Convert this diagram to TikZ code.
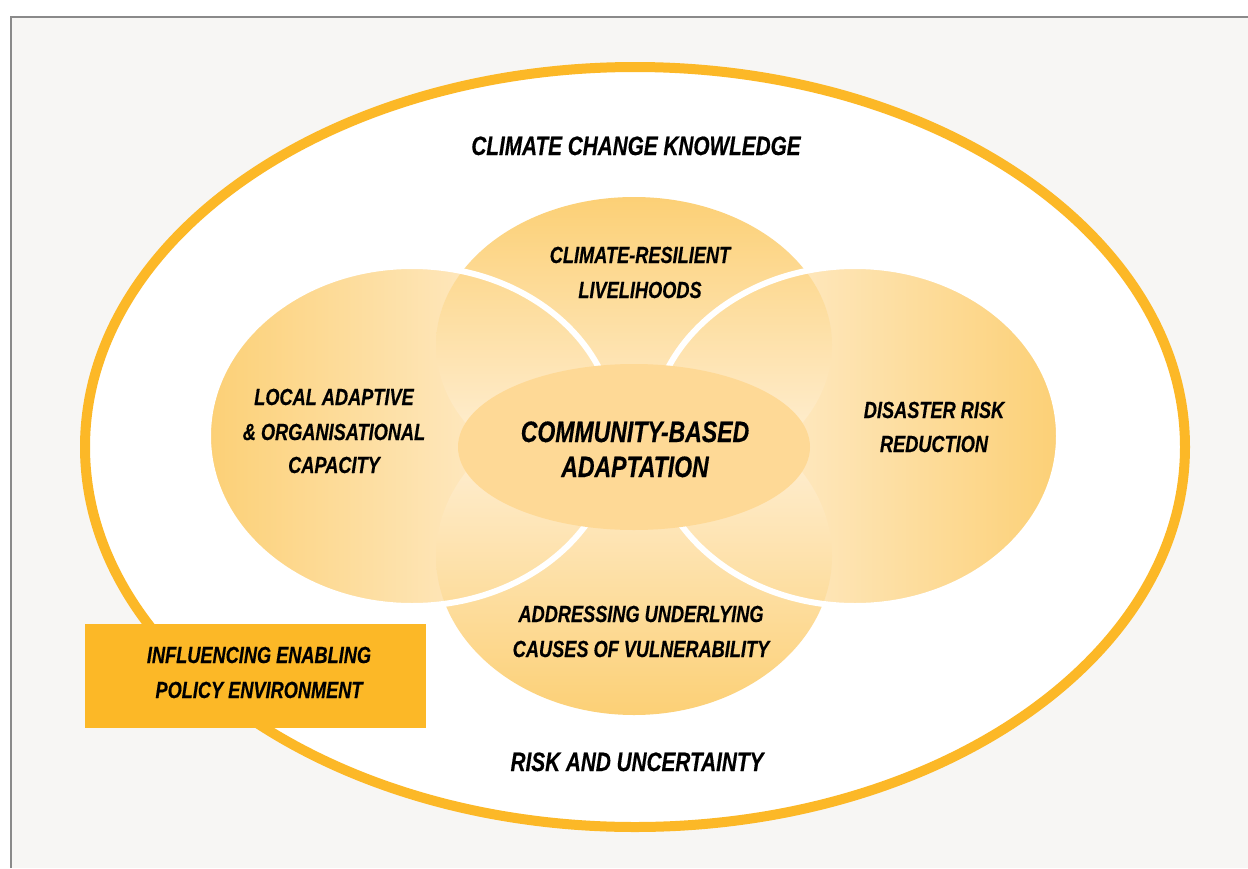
\documentclass[tikz,border=0pt]{standalone}
\usepackage{fontspec}
\newfontfamily\lab{Liberation Sans}[FakeStretch=0.78, BoldItalicFeatures={FakeBold=0.4}]
\definecolor{bg}{HTML}{F7F6F4}
\definecolor{framegray}{HTML}{8A8A8A}
\definecolor{gold}{HTML}{FCB827}
\definecolor{deep}{HTML}{FCD076}
\definecolor{pale}{HTML}{FFF4E4}
\definecolor{core}{HTML}{FED996}
\begin{document}
\begin{tikzpicture}[x=1pt,y=-1pt,
  lbl/.style={font=\lab\bfseries\itshape\fontsize{23.3}{35}\selectfont, anchor=base, inner sep=0pt, text=black},
  outerl/.style={font=\lab\bfseries\itshape\fontsize{26.6}{35}\selectfont, anchor=base, inner sep=0pt, text=black},
  bigl/.style={font=\lab\bfseries\itshape\fontsize{29.5}{35}\selectfont, anchor=base, inner sep=0pt, text=black},
  gap/.style={draw=white, line width=6pt}]
\useasboundingbox (0,0) rectangle (1248,868);
\fill[white] (0,0) rectangle (1248,868);
\fill[bg] (11,17) rectangle (1248,868);
\draw[framegray, line width=2.5pt] (11,868) -- (11,17) -- (1248,17);
% outer ellipse
\draw[gold, line width=10pt, fill=white] (635,447) ellipse [x radius=550pt, y radius=380pt];
% side ellipses
\shade[left color=deep, middle color=pale!92!deep, right color=pale] (412,436) ellipse [x radius=204pt, y radius=170pt];
\shade[left color=pale, middle color=pale!92!deep, right color=deep] (855,436) ellipse [x radius=204pt, y radius=170pt];
% top and bottom ellipses
\shade[top color=deep, middle color=pale, bottom color=pale] (634,345) ellipse [x radius=198pt, y radius=148pt];
\shade[top color=pale, middle color=pale, bottom color=deep] (634,556) ellipse [x radius=198pt, y radius=159pt];
% white gaps
\draw[gap] (412,436) ellipse [x radius=204pt, y radius=170pt];
\draw[gap] (855,436) ellipse [x radius=204pt, y radius=170pt];
% centre
\fill[core] (634,447) ellipse [x radius=176pt, y radius=83pt];
% policy box
\fill[gold] (85,624) rectangle (426,728);
% labels
\node[outerl] (ccknow) at (636,155) {CLIMATE CHANGE KNOWLEDGE};
\node[lbl] (crl1) at (640,263) {CLIMATE-RESILIENT};
\node[lbl] (crl2) at (640,298) {LIVELIHOODS};
\node[lbl] (lac1) at (334,405) {LOCAL ADAPTIVE};
\node[lbl] (lac2) at (334,440) {\& ORGANISATIONAL};
\node[lbl] (lac3) at (334,473) {CAPACITY};
\node[lbl] (drr1) at (934,418) {DISASTER RISK};
\node[lbl] (drr2) at (934,452) {REDUCTION};
\node[lbl] (auc1) at (641,622) {ADDRESSING UNDERLYING};
\node[lbl] (auc2) at (641,657) {CAUSES OF VULNERABILITY};
\node[bigl] (cba1) at (635,442) {COMMUNITY-BASED};
\node[bigl] (cba2) at (635,477) {ADAPTATION};
\node[outerl] (rau) at (637,771) {RISK AND UNCERTAINTY};
\node[lbl] (iep1) at (259,663) {INFLUENCING ENABLING};
\node[lbl] (iep2) at (259,698) {POLICY ENVIRONMENT};
\end{tikzpicture}
\end{document}
